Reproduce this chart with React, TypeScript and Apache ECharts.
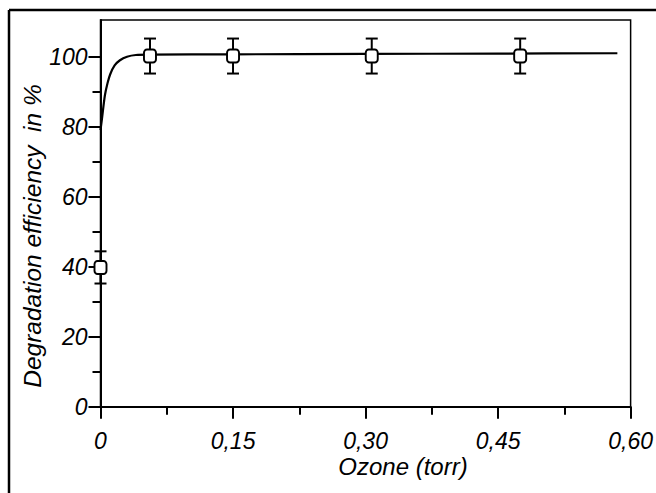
import React, { useEffect, useRef } from "react";
import * as echarts from "echarts";

// Fitted curve (ozone torr, efficiency %)
const curveX = [0, 0.002, 0.005, 0.008, 0.011, 0.016, 0.022, 0.03, 0.04, 0.056, 0.15, 0.3, 0.45, 0.585];
const curveY = [79, 83, 89, 92.5, 95, 97.5, 99, 100, 100.5, 100.6, 100.7, 100.8, 100.9, 101];

// Measured points with error bars
const pointX = [0, 0.056, 0.15, 0.307, 0.475];
const pointY = [39.8, 100.2, 100.2, 100.2, 100.2];
const pointErr = [4.6, 5, 5, 5, 5];

// Axis ticks
const xMajorTicks = [0, 0.15, 0.3, 0.45, 0.6];
const xMinorTicks = [0.075, 0.225, 0.375, 0.525];
const xTickLabels = ["0", "0,15", "0,30", "0,45", "0,60"];
const yMajorTicks = [0, 20, 40, 60, 80, 100];
const yMinorTicks = [10, 30, 50, 70, 90];
const yTickLabels = ["0", "20", "40", "60", "80", "100"];

const xTitle = "Ozone (torr)";
const yTitle = "Degradation efficiency  in %";

const FONT = "'Liberation Sans', Arial, sans-serif";

export default function App() {
  const ref = useRef<HTMLDivElement>(null);
  useEffect(() => {
    if (!ref.current) return;
    const chart = echarts.init(ref.current, null, { renderer: "svg" });
    const labelStyle = {
      fontFamily: FONT,
      fontStyle: "italic",
      fontSize: 23,
      color: "#000",
    };
    const baseX = {
      type: "value" as const,
      min: 0,
      max: 0.6,
      splitLine: { show: false },
    };
    const baseY = {
      type: "value" as const,
      min: 0,
      max: 110.5,
      splitLine: { show: false },
    };
    chart.setOption({
      animation: false,
      backgroundColor: "#fff",
      grid: {
        left: 100.5,
        right: 23,
        top: 20,
        bottom: 86.3,
        show: true,
        borderColor: "#000",
        borderWidth: 1.5,
        backgroundColor: "transparent",
      },
      xAxis: [
        {
          ...baseX,
          axisLine: { show: true, lineStyle: { color: "#000", width: 2 } },
          axisTick: {
            show: true,
            length: 12,
            customValues: xMajorTicks,
            lineStyle: { color: "#000", width: 2 },
          },
          axisLabel: {
            ...labelStyle,
            margin: 23,
            customValues: xMajorTicks,
            formatter: (v: number) => {
              const i = xMajorTicks.findIndex((t) => Math.abs(t - v) < 1e-9);
              return i >= 0 ? xTickLabels[i] : "";
            },
          },
        },
        {
          ...baseX,
          position: "bottom",
          axisLine: { show: false },
          axisTick: {
            show: true,
            length: 8,
            customValues: xMinorTicks,
            lineStyle: { color: "#000", width: 2 },
          },
          axisLabel: { show: false },
        },
      ],
      yAxis: [
        {
          ...baseY,
          axisLine: { show: true, lineStyle: { color: "#000", width: 2 } },
          axisTick: {
            show: true,
            length: 12,
            customValues: yMajorTicks,
            lineStyle: { color: "#000", width: 2 },
          },
          axisLabel: {
            ...labelStyle,
            margin: 13,
            customValues: yMajorTicks,
            formatter: (v: number) => {
              const i = yMajorTicks.findIndex((t) => Math.abs(t - v) < 1e-9);
              return i >= 0 ? yTickLabels[i] : "";
            },
          },
        },
        {
          ...baseY,
          position: "left",
          axisLine: { show: false },
          axisTick: {
            show: true,
            length: 8,
            customValues: yMinorTicks,
            lineStyle: { color: "#000", width: 2 },
          },
          axisLabel: { show: false },
        },
      ],
      graphic: [
        {
          type: "line",
          shape: { x1: 9, y1: 10, x2: 656, y2: 10 },
          style: { stroke: "#000", lineWidth: 2.5 },
        },
        {
          type: "line",
          shape: { x1: 9, y1: 10, x2: 9, y2: 493 },
          style: { stroke: "#000", lineWidth: 2.5 },
        },
        {
          type: "text",
          x: 403,
          y: 466,
          style: {
            text: xTitle,
            font: `italic 24px ${FONT}`,
            fill: "#000",
            textAlign: "center",
            textVerticalAlign: "middle",
          },
        },
        {
          type: "text",
          x: 33,
          y: 236,
          rotation: Math.PI / 2,
          scaleX: 1.02,
          style: {
            text: yTitle,
            font: `italic 24px ${FONT}`,
            fill: "#000",
            textAlign: "center",
            textVerticalAlign: "middle",
          },
        },
      ],
      series: [
        {
          type: "line",
          data: curveX.map((x, i) => [x, curveY[i]]),
          smooth: 0.3,
          showSymbol: false,
          symbol: "none",
          lineStyle: { color: "#000", width: 2.2 },
          z: 2,
        },
        {
          type: "custom",
          data: pointX.map((x, i) => [x, pointY[i], pointErr[i]]),
          renderItem: (params: any, api: any) => {
            const x = api.value(0);
            const y = api.value(1);
            const e = api.value(2);
            const top = api.coord([x, y + e]);
            const bot = api.coord([x, y - e]);
            const hw = 6;
            const st = { stroke: "#000", lineWidth: 2 };
            return {
              type: "group",
              children: [
                { type: "line", shape: { x1: top[0], y1: top[1], x2: bot[0], y2: bot[1] }, style: st },
                { type: "line", shape: { x1: top[0] - hw, y1: top[1], x2: top[0] + hw, y2: top[1] }, style: st },
                { type: "line", shape: { x1: bot[0] - hw, y1: bot[1], x2: bot[0] + hw, y2: bot[1] }, style: st },
              ],
            };
          },
          z: 3,
        },
        {
          type: "scatter",
          data: pointX.map((x, i) => [x, pointY[i]]),
          symbol: "roundRect",
          symbolSize: [12, 13],
          itemStyle: { color: "#fff", borderColor: "#000", borderWidth: 2, opacity: 1 },
          z: 4,
        },
      ],
    });
    return () => chart.dispose();
  }, []);
  return (
    <div
      ref={ref}
      style={{ position: "absolute", left: 0, top: 0, width: 656, height: 493 }}
    />
  );
}
